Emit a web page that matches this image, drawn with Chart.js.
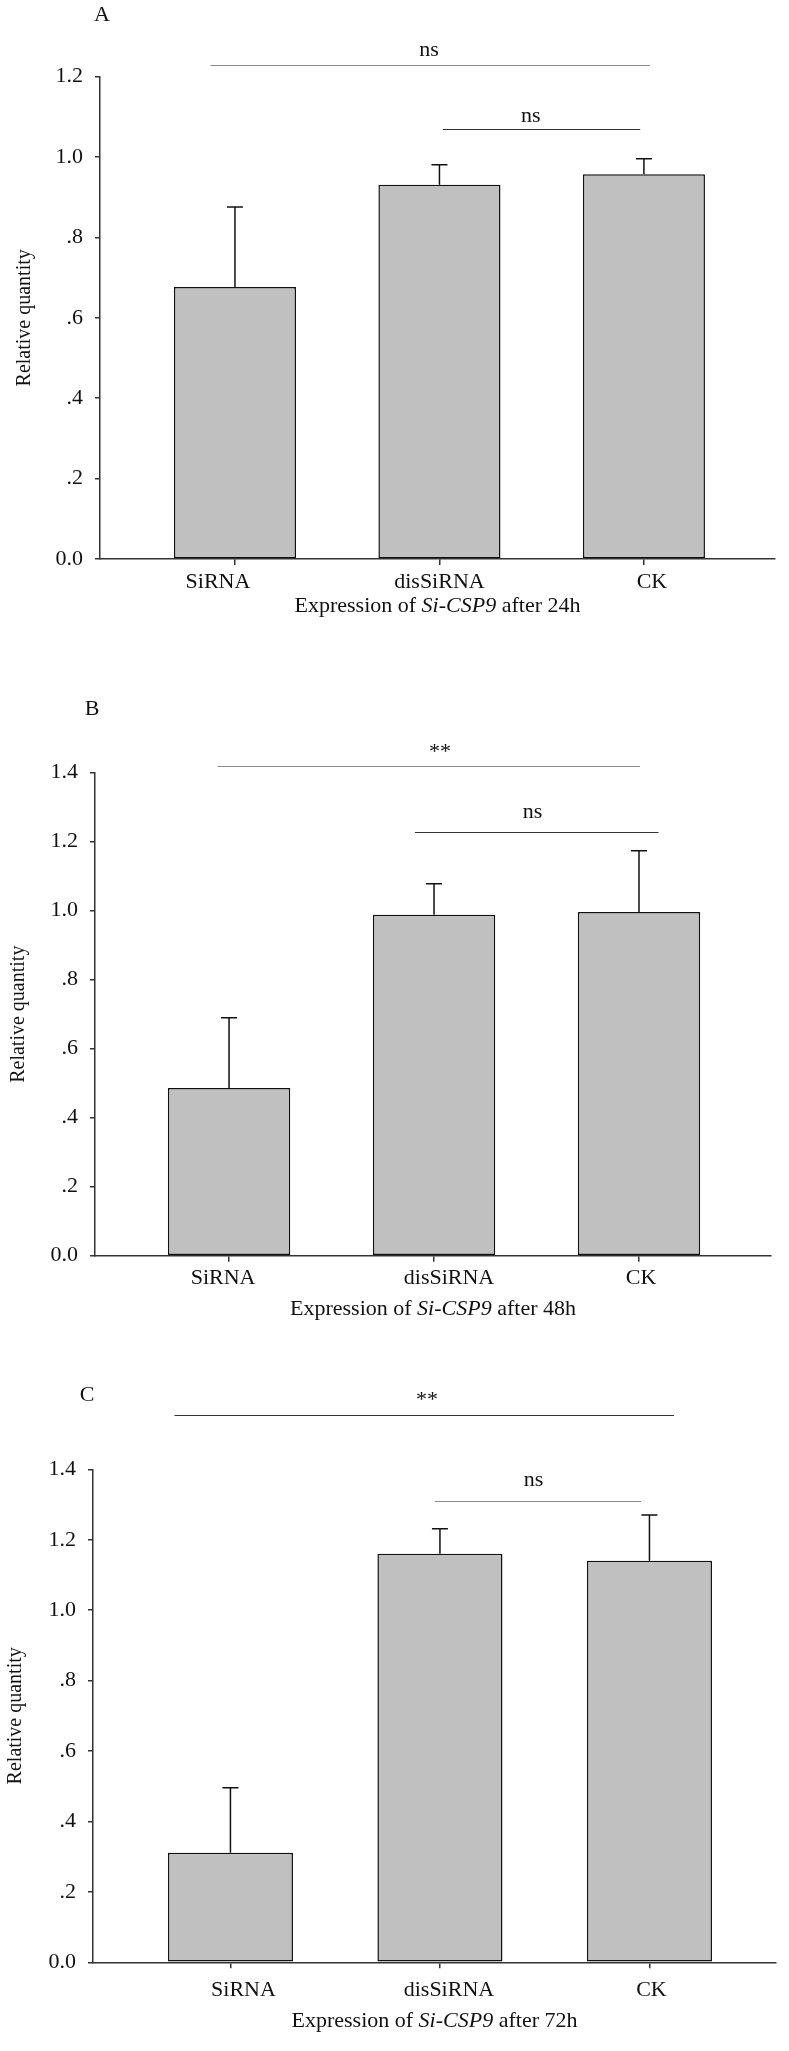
<!DOCTYPE html>
<html>
<head>
<meta charset="utf-8">
<script src="https://cdn.jsdelivr.net/npm/chart.js@4.4.1/dist/chart.umd.min.js"></script>
<style>
  html, body { margin: 0; padding: 0; background: #fff; }
  canvas { display: block; }
</style>
</head>
<body>
<canvas id="chartA" width="789" height="684"></canvas>
<canvas id="chartB" width="789" height="684"></canvas>
<canvas id="chartC" width="789" height="683"></canvas>
<script>
// data
var categories = ['SiRNA', 'disSiRNA', 'CK'];
var valuesA = [0.677, 0.931, 0.957];
var errorsA = [0.199, 0.050, 0.039];
var valuesB = [0.486, 0.988, 0.996];
var errorsB = [0.204, 0.090, 0.178];
var valuesC = [0.311, 1.160, 1.140];
var errorsC = [0.185, 0.071, 0.130];
var yTicksA = ['0.0', '.2', '.4', '.6', '.8', '1.0', '1.2'];
var yTicksBC = ['0.0', '.2', '.4', '.6', '.8', '1.0', '1.2', '1.4'];
var sigTextA = ['ns', 'ns'];
var sigTextB = ['**', 'ns'];
var sigTextC = ['**', 'ns'];
var hours = ['24h', '48h', '72h'];
var panelLetters = ['A', 'B', 'C'];

var FONT = "'Liberation Serif', 'Times New Roman', serif";
Chart.defaults.font.family = FONT;
Chart.defaults.font.size = 22;
Chart.defaults.color = '#111';

var panels = [
  {
    canvas: 'chartA', letter: panelLetters[0], hour: hours[0],
    values: valuesA, errors: errorsA, yTicks: yTicksA, yMax: 1.2, sigText: sigTextA,
    height: 684, left: 100, right: 14, top: 76.7, bottom: 559,
    xMin: -0.66, xMax: 2.641, letterPos: [102, 15], yTitlePad: 13,
    labelOffset: 22.8, labelShift: [-17, 0, 8], titleOffset: 47.6,
    // significance bars in data units
    sig: [
      { from: -0.12, to: 2.03, y: 1.229, tx: 0.949, ty: 1.265, color: '#8a8a8a' },
      { from: 1.017, to: 1.982, y: 1.071, tx: 1.447, ty: 1.102, color: '#333' }
    ]
  },
  {
    canvas: 'chartB', letter: panelLetters[1], hour: hours[1],
    values: valuesB, errors: errorsB, yTicks: yTicksBC, yMax: 1.4, sigText: sigTextB,
    height: 684, left: 95, right: 18, top: 88.7, bottom: 571.7,
    xMin: -0.654, xMax: 2.644, letterPos: [92, 25], yTitlePad: 7,
    labelOffset: 22.8, labelShift: [-6, 15, 2], titleOffset: 53.9,
    sig: [
      { from: -0.056, to: 2.005, y: 1.418, tx: 1.029, ty: 1.474, color: '#8a8a8a' },
      { from: 0.907, to: 2.095, y: 1.228, tx: 1.481, ty: 1.286, color: '#333' }
    ]
  },
  {
    canvas: 'chartC', letter: panelLetters[2], hour: hours[2],
    values: valuesC, errors: errorsC, yTicks: yTicksBC, yMax: 1.4, sigText: sigTextC,
    height: 683, left: 93, right: 13, top: 101.3, bottom: 594.3,
    xMin: -0.656, xMax: 2.604, letterPos: [87, 27], yTitlePad: 4,
    labelOffset: 27.7, labelShift: [13, 9, 2], titleOffset: 58.7,
    sig: [
      { from: -0.267, to: 2.117, y: 1.555, tx: 0.938, ty: 1.610, color: '#333' },
      { from: 0.976, to: 1.96, y: 1.309, tx: 1.447, ty: 1.368, color: '#8a8a8a' }
    ]
  }
];

function annotations(p) {
  return {
    id: 'annotations',
    afterDatasetsDraw: function (chart) {
      var ctx = chart.ctx, area = chart.chartArea;
      var xs = chart.scales.x, ys = chart.scales.y;
      var meta = chart.getDatasetMeta(0);
      ctx.save();

      // error bars (upper only)
      ctx.strokeStyle = '#111';
      ctx.lineWidth = 1.5;
      meta.data.forEach(function (bar, i) {
        var top = ys.getPixelForValue(p.values[i] + p.errors[i]);
        ctx.beginPath();
        ctx.moveTo(bar.x, bar.y);
        ctx.lineTo(bar.x, top);
        ctx.moveTo(bar.x - 8, top);
        ctx.lineTo(bar.x + 8, top);
        ctx.stroke();
      });

      ctx.font = '22px ' + FONT;
      ctx.fillStyle = '#111';
      ctx.textAlign = 'center';
      ctx.textBaseline = 'middle';

      // category labels
      categories.forEach(function (c, i) {
        ctx.fillText(c, xs.getPixelForValue(i) + p.labelShift[i], area.bottom + p.labelOffset);
      });

      // significance lines
      p.sig.forEach(function (s, i) {
        var yy = Math.round(ys.getPixelForValue(s.y)) + 0.5;
        ctx.strokeStyle = s.color;
        ctx.lineWidth = 1;
        ctx.beginPath();
        ctx.moveTo(xs.getPixelForValue(s.from), yy);
        ctx.lineTo(xs.getPixelForValue(s.to), yy);
        ctx.stroke();
        var label = p.sigText[i];
        var shift = label === '**' ? 5 : 0;
        ctx.fillText(label, xs.getPixelForValue(s.tx), ys.getPixelForValue(s.ty) + shift);
      });

      // panel letter
      ctx.fillText(p.letter, p.letterPos[0], p.letterPos[1]);

      // x axis title with italic gene name
      var parts = [
        { t: 'Expression of ', it: false },
        { t: 'Si-CSP9', it: true },
        { t: ' after ' + p.hour, it: false }
      ];
      var widths = parts.map(function (pt) {
        ctx.font = (pt.it ? 'italic ' : '') + '22px ' + FONT;
        return ctx.measureText(pt.t).width;
      });
      var total = widths.reduce(function (a, b) { return a + b; }, 0);
      var cx = (area.left + area.right) / 2 - total / 2;
      var ty = area.bottom + p.titleOffset;
      ctx.textAlign = 'left';
      parts.forEach(function (pt, i) {
        ctx.font = (pt.it ? 'italic ' : '') + '22px ' + FONT;
        ctx.fillText(pt.t, cx, ty);
        cx += widths[i];
      });
      ctx.restore();
    }
  };
}

panels.forEach(function (p) {
  var ctx = document.getElementById(p.canvas).getContext('2d');
  new Chart(ctx, {
    type: 'bar',
    data: {
      datasets: [{
        data: categories.map(function (c, i) { return { x: i, y: p.values[i] }; }),
        backgroundColor: '#c0c0c0',
        borderColor: '#111',
        borderWidth: 1.5,
        borderSkipped: false,
        barPercentage: 0.597,
        categoryPercentage: 1
      }]
    },
    options: {
      responsive: false,
      animation: false,
      layout: { padding: { left: 0, top: p.top, right: p.right, bottom: 0 } },
      plugins: { legend: { display: false }, tooltip: { enabled: false } },
      scales: {
        x: {
          type: 'linear',
          offset: false,
          min: p.xMin,
          max: p.xMax,
          afterBuildTicks: function (s) {
            s.ticks = categories.map(function (c, i) { return { value: i }; });
          },
          afterFit: function (s) { s.height = p.height - p.bottom; },
          ticks: { display: false },
          grid: { offset: false, drawOnChartArea: false, drawTicks: true, tickLength: 6, color: '#333', lineWidth: 1.5 },
          border: { display: true, color: '#333', width: 1.5 }
        },
        y: {
          min: 0,
          max: p.yMax,
          afterFit: function (s) { s.width = p.left; },
          ticks: {
            stepSize: 0.2,
            padding: 12,
            callback: function (v) { return p.yTicks[Math.round(v / 0.2)]; }
          },
          grid: { drawOnChartArea: false, drawTicks: true, tickLength: 5, color: '#333', lineWidth: 1.5 },
          border: { display: true, color: '#333', width: 1.5 },
          title: {
            display: true,
            text: 'Relative quantity',
            font: { size: 20 },
            padding: { top: p.yTitlePad, bottom: 0 }
          }
        }
      }
    },
    plugins: [annotations(p)]
  });
});
</script>
</body>
</html>
